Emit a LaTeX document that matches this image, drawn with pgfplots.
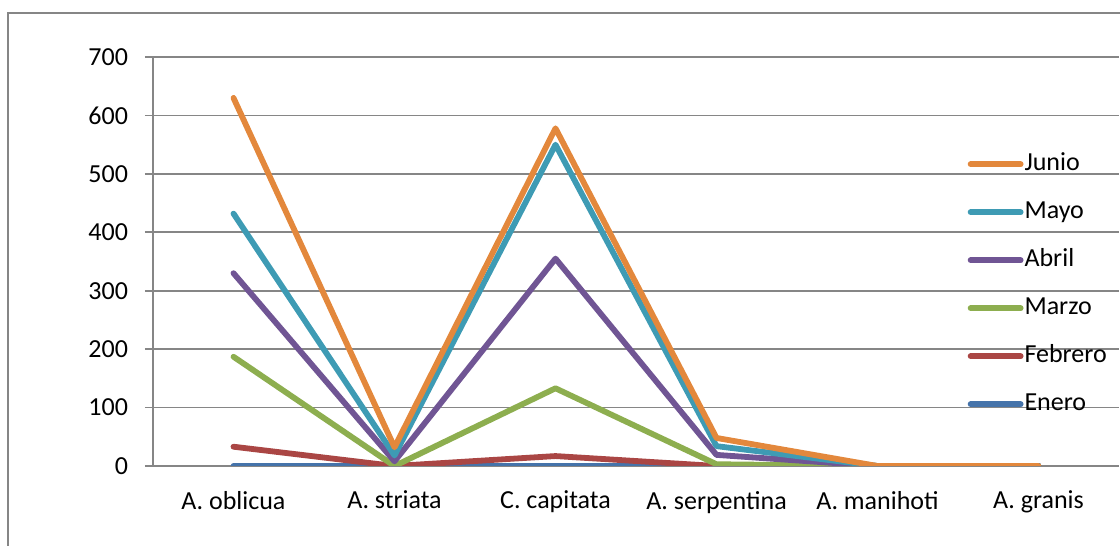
\documentclass[border=0pt]{standalone}
\usepackage{fontspec}
\setmainfont{Carlito}
\usepackage{pgfplots}
\pgfplotsset{compat=1.18}

\definecolor{gridgray}{HTML}{868686}
\definecolor{cEnero}{HTML}{4573AA}
\definecolor{cFebrero}{HTML}{AA4644}
\definecolor{cMarzo}{HTML}{8DAE4F}
\definecolor{cAbril}{HTML}{705594}
\definecolor{cMayo}{HTML}{3E9BB4}
\definecolor{cJunio}{HTML}{E3883C}

\pgfplotstableread{
cat Enero Febrero Marzo Abril Mayo Junio
1   0     33      187   330   432  630
2   0     0       0     8     18   32
3   0     17      133   355   550  578
4   0     0       3     19    34   48
5   0     0       0     0     0    0
6   0     0       0     0     0    0
}\datos

\begin{document}
\begin{tikzpicture}
\path[use as bounding box] (0,0) rectangle (560pt,273pt);
% marco exterior del grafico (recortado a la derecha y abajo)
\draw[gridgray, line width=0.85pt] (4pt,0pt) -- (4pt,266.5pt) -- (562pt,266.5pt);
\begin{axis}[
    at={(76.5pt,40pt)}, anchor=south west,
    width=483pt, height=204.5pt, scale only axis,
    xmin=0.5, xmax=6.5, ymin=0, ymax=700,
    axis x line*=bottom, axis y line*=left,
    axis line style={gridgray, line width=0.85pt, -},
    ymajorgrids,
    grid style={gridgray, line width=0.85pt},
    ytick={0,100,...,700},
    tick align=outside,
    major tick length=4pt,
    tick style={gridgray, line width=0.85pt},
    xtick={1,...,6},
    xticklabels={A. oblicua, A. striata, C. capitata, A. serpentina, A. manihoti, A. granis},
    major x tick style={draw=none},
    extra x ticks={0.5,1.5,...,6.5},
    extra x tick labels={},
    extra x tick style={grid=none, major tick length=3.5pt, tick style={gridgray, line width=0.85pt}},
    ticklabel style={font=\fontsize{13}{13}\selectfont, text=black},
    yticklabel style={xshift=-5pt},
    xticklabel style={yshift=-5pt},
    /pgf/number format/assume math mode=true,
    every axis plot/.append style={line width=2.9pt, line cap=round, line join=round, mark=none},
    legend image code/.code={\draw[#1] (0pt,0pt) -- (25pt,0pt);},
    reverse legend,
    legend cell align=left,
    legend style={draw=none, fill=none, at={(0.843,0.768)}, anchor=north west,
        font=\fontsize{13}{13}\selectfont, inner sep=0pt, row sep=12pt, column sep=0.5pt,
        nodes={inner sep=0pt, text height=9pt, text depth=3pt}},
]
\addplot[cEnero]   table[x=cat, y=Enero]   {\datos};
\addplot[cFebrero] table[x=cat, y=Febrero] {\datos};
\addplot[cMarzo]   table[x=cat, y=Marzo]   {\datos};
\addplot[cAbril]   table[x=cat, y=Abril]   {\datos};
\addplot[cMayo]    table[x=cat, y=Mayo]    {\datos};
\addplot[cJunio]   table[x=cat, y=Junio]   {\datos};
\legend{Enero, Febrero, Marzo, Abril, Mayo, Junio}
\end{axis}
\end{tikzpicture}
\end{document}
